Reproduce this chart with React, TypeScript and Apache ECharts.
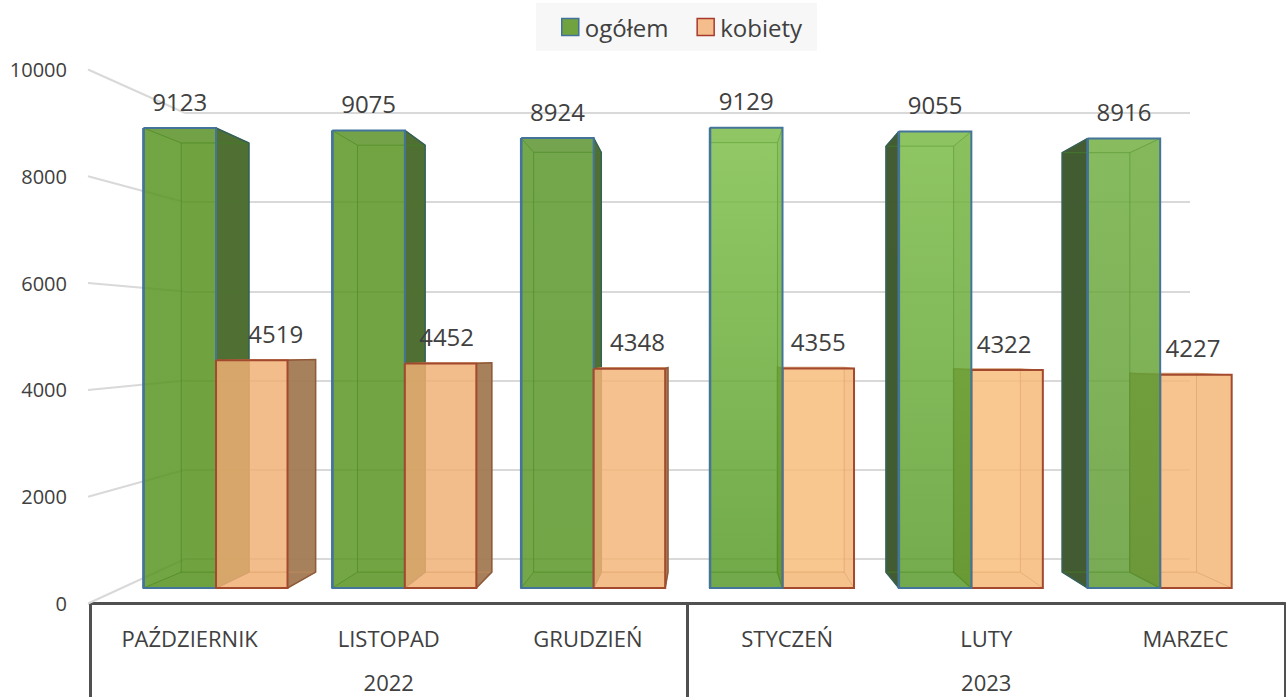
import React, { useEffect, useRef } from "react";
import * as echarts from "echarts";

const months = ["PAŹDZIERNIK", "LISTOPAD", "GRUDZIEŃ", "STYCZEŃ", "LUTY", "MARZEC"];
const years = ["2022", "2023"];
const ogolem = [9123, 9075, 8924, 9129, 9055, 8916];
const kobiety = [4519, 4452, 4348, 4355, 4322, 4227];
const axisTicks = [0, 2000, 4000, 6000, 8000, 10000];

// layout of the three perspective planes (pixels)
const OUTER = { left: 90, top: 69.5, width: 1195, height: 534 };
const FRONT = { left: 121.6, top: 83.8, width: 1133, height: 504.2 };
const BACK = { left: 185, top: 113, width: 1005, height: 446 };
const VP = [707, 351];
const DEPTH = 0.933;
const BAR_W = 72.5;
const FONT = '"Open Sans", sans-serif';
const TEXT = "#404040";

const greenTop = ["#55911c", "#58931f", "#59962a", "#7dbf49", "#7abb46", "#70ae40"];
const greenBottom = ["#55911c", "#58931f", "#589524", "#579a28", "#5a9c2c", "#609a34"];
const peachFill = ["#f0b174", "#f0b174", "#f3b578", "#f6ba7a", "#f9be7c", "#f5b97a"];
const greenLabelDx = [0, 0, 0, 0, 0, 0];
const peachLabelDx = [24, 6, 8, 0, -3, -3];

const proj = (p: number[]) => [VP[0] + DEPTH * (p[0] - VP[0]), VP[1] + DEPTH * (p[1] - VP[1])];

function poly(points: number[][], fill: any, opacity: number, z2: number, stroke?: string, lineWidth?: number) {
  return {
    type: "polygon",
    silent: true,
    z2,
    shape: { points },
    style: { fill, opacity, stroke: stroke || "none", lineWidth: lineWidth || 0 },
  };
}

function edge(points: number[][], stroke: string, lineWidth: number, z2: number, opacity = 1) {
  return {
    type: "polyline",
    silent: true,
    z2,
    shape: { points },
    style: { fill: "none", stroke, lineWidth, opacity, lineJoin: "miter" },
  };
}

function makeBox(kind: "green" | "peach") {
  return (params: any, api: any) => {
    const idx = api.value(0);
    const value = api.value(1);
    const center = api.coord([idx, value])[0];
    const top = api.coord([idx, value])[1];
    const bottom = api.coord([idx, 0])[1];
    const x0 = kind === "green" ? center - BAR_W : center;
    const x1 = kind === "green" ? center : center + BAR_W - 1;
    const f = [[x0, top], [x1, top], [x1, bottom], [x0, bottom]];
    const b = f.map(proj);
    const rightOfVp = (x0 + x1) / 2 > VP[0];
    const base = kind === "peach" ? 30 : rightOfVp ? 50 : 10;

    const a = 0.6;
    let fill: any, topFill: string, floorFill: string, outerFill: string, outerAlpha: number;
    let leftInner: any, rightInner: any, leftAlpha = a, rightAlpha = a;
    let outline: string, inner: string, outerEdge: string;
    if (kind === "green") {
      fill = new echarts.graphic.LinearGradient(0, 0, 0, 1, [
        { offset: 0, color: greenTop[idx] },
        { offset: 1, color: greenBottom[idx] },
      ]);
      topFill = rightOfVp ? "#74b040" : "#5c8a35";
      floorFill = rightOfVp ? "#52922a" : "#4e8a1c";
      outerFill = rightOfVp ? "#3f582f" : "#4c6d30";
      outerAlpha = 0.97;
      leftInner = "#5c9a28";
      rightInner = rightOfVp ? "#64a32e" : "#55911c";
      outline = "#44749a";
      inner = "#437f28";
      outerEdge = "#37605a";
    } else {
      fill = peachFill[idx];
      topFill = "#eaa468";
      floorFill = rightOfVp ? "#f0ad70" : "#eca76a";
      outerFill = "#a07a55";
      outerAlpha = 0.92;
      leftInner = rightOfVp ? "#576a3a" : peachFill[idx];
      if (rightOfVp) leftAlpha = 0.95;
      rightInner = "#f0ae72";
      outline = "#a3492e";
      inner = "#c48c5c";
      outerEdge = "#8e5a3a";
    }

    const leftOuter = b[0][0] < f[0][0];
    const rightOuter = b[1][0] > f[1][0];
    const leftFace = [f[0], b[0], b[3], f[3]];
    const rightFace = [f[1], b[1], b[2], f[2]];
    const topFace = [f[0], f[1], b[1], b[0]];
    const floorFace = [f[3], f[2], b[2], b[3]];

    const children: any[] = [];
    children.push(poly(b, fill, a, base));
    children.push(poly(floorFace, floorFill, a, base + 1));
    children.push(poly(topFace, topFill, a, base + 1));
    children.push(
      poly(leftFace, leftOuter ? outerFill : leftInner, leftOuter ? outerAlpha : leftAlpha, base + 2)
    );
    children.push(
      poly(rightFace, rightOuter ? outerFill : rightInner, rightOuter ? outerAlpha : rightAlpha, base + 2)
    );
    // hidden edges of the back of the box
    children.push(edge([b[0], b[1], b[2], b[3], b[0]], inner, 1, base + 3, 0.8));
    children.push(edge([f[0], b[0]], inner, 1, base + 3, 0.8));
    children.push(edge([f[1], b[1]], inner, 1, base + 3, 0.8));
    children.push(edge([f[2], b[2]], inner, 1, base + 3, 0.8));
    children.push(edge([f[3], b[3]], inner, 1, base + 3, 0.8));
    // front of the box
    children.push(poly(f, fill, a, base + 4));
    if (leftOuter) children.push(edge([f[0], b[0], b[3], f[3]], outerEdge, 1.5, base + 5));
    if (rightOuter) children.push(edge([f[1], b[1], b[2], f[2]], outerEdge, 1.5, base + 5));
    children.push(edge([f[0], f[1], f[2], f[3], f[0]], outline, 2, base + 6));
    if (kind === "green") {
      children.push(edge([f[0], f[3]], outline, 2.5, base + 6));
    }
    // value label
    const dx = kind === "green" ? greenLabelDx[idx] : peachLabelDx[idx];
    children.push({
      type: "text",
      silent: true,
      z2: 1000,
      x: (x0 + x1) / 2 + dx,
      y: top - 27,
      style: {
        text: String(value),
        fill: TEXT,
        font: `24px ${FONT}`,
        align: "center",
        verticalAlign: "middle",
      },
    });
    return { type: "group", children };
  };
}

function wallLine(params: any, api: any) {
  const v = api.value(0);
  const p = api.coord([0, v]);
  const backY = BACK.top + BACK.height * (1 - v / 10000);
  return {
    type: "line",
    silent: true,
    shape: { x1: OUTER.left - 2, y1: p[1], x2: BACK.left, y2: backY },
    style: { stroke: "#d9d9d9", lineWidth: 2 },
  };
}

export default function App() {
  const ref = useRef<HTMLDivElement>(null);
  useEffect(() => {
    const chart = echarts.init(ref.current!, undefined, { renderer: "svg" });
    const hiddenCat = { type: "category", data: months, show: false };
    const hiddenVal = { type: "value", min: 0, max: 10000, interval: 2000, show: false };
    chart.setOption({
      animation: false,
      backgroundColor: "#ffffff",
      legend: {
        left: 536,
        top: 3,
        padding: [12, 15, 12, 25],
        backgroundColor: "#f7f7f7",
        itemWidth: 17,
        itemHeight: 17,
        itemGap: 28,
        textStyle: { fontFamily: FONT, fontSize: 24, color: TEXT, padding: [0, 0, 0, 1] },
        data: [
          { name: "ogółem", icon: "rect", itemStyle: { color: "#70a33f", borderColor: "#41719c", borderWidth: 1.5 } },
          { name: "kobiety", icon: "rect", itemStyle: { color: "#f4bd8b", borderColor: "#a8392e", borderWidth: 1.5 } },
        ],
      },
      grid: [
        { ...OUTER, containLabel: false },
        { ...FRONT, containLabel: false },
        { ...BACK, containLabel: false },
      ],
      xAxis: [
        {
          type: "category",
          gridIndex: 0,
          data: months,
          axisLine: { show: true, lineStyle: { color: "#505050", width: 3 } },
          axisTick: { show: false },
          axisLabel: { color: TEXT, fontFamily: FONT, fontSize: 22, margin: 21, interval: 0, lineHeight: 26 },
        },
        {
          type: "category",
          gridIndex: 0,
          position: "bottom",
          data: years,
          axisLine: { show: false },
          axisTick: { show: true, length: 96, lineStyle: { color: "#505050", width: 3 } },
          axisLabel: { color: TEXT, fontFamily: FONT, fontSize: 22, margin: 67, interval: 0, lineHeight: 22 },
        },
        { ...hiddenCat, gridIndex: 1 },
        { ...hiddenCat, gridIndex: 2 },
      ],
      yAxis: [
        {
          type: "value",
          gridIndex: 0,
          min: 0,
          max: 10000,
          interval: 2000,
          axisLine: { show: false },
          axisTick: { show: false },
          splitLine: { show: false },
          axisLabel: { color: TEXT, fontFamily: FONT, fontSize: 20, margin: 23, formatter: (v: number) => String(v) },
        },
        { ...hiddenVal, gridIndex: 1 },
        {
          type: "value",
          gridIndex: 2,
          min: 0,
          max: 10000,
          interval: 2000,
          axisLine: { show: false },
          axisTick: { show: false },
          axisLabel: { show: false },
          splitLine: { show: true, lineStyle: { color: "#d9d9d9", width: 2 } },
        },
      ],
      series: [
        {
          type: "custom",
          name: "wall",
          xAxisIndex: 0,
          yAxisIndex: 0,
          coordinateSystem: "cartesian2d",
          clip: false,
          silent: true,
          z: 1,
          encode: { y: 0 },
          data: axisTicks.map((v) => [v]),
          renderItem: wallLine,
        },
        {
          type: "custom",
          name: "ogółem",
          xAxisIndex: 2,
          yAxisIndex: 1,
          clip: false,
          silent: true,
          z: 2,
          encode: { x: 0, y: 1 },
          data: ogolem.map((v, i) => [i, v]),
          renderItem: makeBox("green"),
        },
        {
          type: "custom",
          name: "kobiety",
          xAxisIndex: 2,
          yAxisIndex: 1,
          clip: false,
          silent: true,
          z: 2,
          encode: { x: 0, y: 1 },
          data: kobiety.map((v, i) => [i, v]),
          renderItem: makeBox("peach"),
        },
      ],
    });
    return () => chart.dispose();
  }, []);
  return <div ref={ref} style={{ position: "absolute", left: 0, top: 0, width: 1286, height: 697 }} />;
}
